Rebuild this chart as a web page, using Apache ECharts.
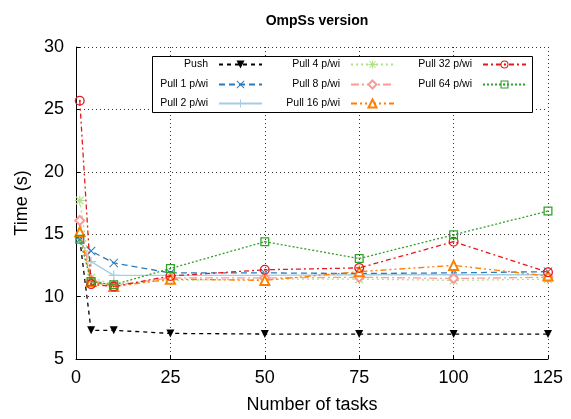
<!DOCTYPE html>
<html><head><meta charset="utf-8">
<script src="https://cdn.jsdelivr.net/npm/echarts@6/dist/echarts.min.js"></script>
<style>html,body{margin:0;padding:0;background:#fff}#c{width:571px;height:419px}</style>
</head><body><div id="c"></div>
<script>
const tasks = [1, 4, 10, 25, 50, 75, 100, 125];
const push   = [14.6, 7.3, 7.3, 7.05, 7.0, 7.0, 7.0, 7.0];
const pull1  = [14.6, 13.65, 12.7, 11.9, 11.9, 11.85, 11.9, 12.0];
const pull2  = [14.6, 12.8, 11.7, 11.7, 11.7, 11.75, 11.75, 11.75];
const pull4  = [17.7, 11.5, 11.0, 11.3, 11.4, 11.4, 11.3, 11.4];
const pull8  = [16.1, 11.3, 10.9, 11.5, 11.5, 11.55, 11.45, 11.55];
const pull16 = [15.2, 11.2, 10.8, 11.4, 11.3, 12.0, 12.5, 11.65];
const pull32 = [25.7, 11.0, 10.8, 11.65, 12.15, 12.3, 14.4, 11.95];
const pull64 = [14.6, 11.2, 10.95, 12.25, 14.4, 13.05, 14.95, 16.85];
const seriesNames = ['Push','Pull 1 p/wi','Pull 2 p/wi','Pull 4 p/wi','Pull 8 p/wi','Pull 16 p/wi','Pull 32 p/wi','Pull 64 p/wi'];
const xTicks = [0, 25, 50, 75, 100, 125];
const yTicks = [5, 10, 15, 20, 25, 30];

const FONT = 'Liberation Sans, Arial, sans-serif';
const X_PATH = 'path://M0.8,0 L5,4.2 L9.2,0 L10,0.8 L5.8,5 L10,9.2 L9.2,10 L5,5.8 L0.8,10 L0,9.2 L4.2,5 L0,0.8 Z';
const PLUS_PATH = 'path://M4.4,0 L5.6,0 L5.6,4.4 L10,4.4 L10,5.6 L5.6,5.6 L5.6,10 L4.4,10 L4.4,5.6 L0,5.6 L0,4.4 L4.4,4.4 Z';
const STAR_PATH = 'path://M4.4,0 L5.6,0 L5.6,4.4 L10,4.4 L10,5.6 L5.6,5.6 L5.6,10 L4.4,10 L4.4,5.6 L0,5.6 L0,4.4 L4.4,4.4 Z M1.5,0.7 L5,4.2 L8.5,0.7 L9.3,1.5 L5.8,5 L9.3,8.5 L8.5,9.3 L5,5.8 L1.5,9.3 L0.7,8.5 L4.2,5 L0.7,1.5 Z';
const RINGDOT_PATH = 'path://M5,0 A5,5 0 1,1 5,10 A5,5 0 1,1 5,0 Z M5,1.3 A3.7,3.7 0 1,0 5,8.7 A3.7,3.7 0 1,0 5,1.3 Z M5,4 A1,1 0 1,1 5,6 A1,1 0 1,1 5,4 Z';
const SQDOT_PATH = 'path://M0,0 L10,0 L10,10 L0,10 Z M1.4,1.4 L1.4,8.6 L8.6,8.6 L8.6,1.4 Z M4.2,4.2 L5.8,4.2 L5.8,5.8 L4.2,5.8 Z';

const styles = [
  {data: push,   color:'#000000', dash:[4,4],          symbol:'triangle', rot:180, size:8, bw:0},
  {data: pull1,  color:'#2b7bba', dash:[6,4],          symbol:X_PATH, size:9, bw:0},
  {data: pull2,  color:'#a6cee3', dash:'solid',        symbol:PLUS_PATH, size:10, bw:0},
  {data: pull4,  color:'#b2df8a', dash:[2,3],          symbol:STAR_PATH, size:10, bw:0},
  {data: pull8,  color:'#fb9a99', dash:[8,3,2,3],      symbol:'emptyDiamond', size:9, bw:1.2},
  {data: pull16, color:'#ff7f00', dash:[6,3,2,3,2,3],  symbol:'emptyTriangle', size:9, bw:1.2},
  {data: pull32, color:'#e31a1c', dash:[5,3,2,3],      symbol:RINGDOT_PATH, size:10, bw:0},
  {data: pull64, color:'#33a02c', dash:[2,2],          symbol:SQDOT_PATH, size:9, bw:0}
];

const series = styles.map((s, i) => ({
  name: seriesNames[i],
  type: 'line',
  data: tasks.map((t, j) => [t, s.data[j]]),
  symbol: s.symbol,
  symbolSize: s.size,
  symbolRotate: s.rot || 0,
  symbolKeepAspect: true,
  showAllSymbol: true,
  color: s.color,
  lineStyle: {color: s.color, width: 1.3, type: s.dash},
  itemStyle: {color: s.color, borderColor: s.color, borderWidth: s.bw},
  emphasis: {disabled: true},
  z: 2 + i*0.01
}));

const colRight = [263, 395, 527];
const rowCenter = [64, 84, 103];
const legendPos = [[0,0],[0,1],[0,2],[1,0],[1,1],[1,2],[2,0],[2,1]];
const legends = seriesNames.map((n, i) => ({
  data: [n],
  right: 571 - colRight[legendPos[i][0]],
  top: rowCenter[legendPos[i][1]] - 5,
  align: 'right',
  orient: 'horizontal',
  itemWidth: 43,
  itemHeight: 10,
  padding: 0,
  selectedMode: false,
  z: 10,
  itemStyle: {borderWidth: styles[i].bw},
  textStyle: {fontSize: 10.5, fontFamily: FONT, color: '#000', padding: [0, 6, 0, 0]}
}));

const chart = echarts.init(document.getElementById('c'), null, {renderer: 'canvas'});
chart.setOption({
  animation: false,
  backgroundColor: '#fff',
  title: {text: 'OmpSs version', left: 312, textAlign: 'center', top: 9,
    textStyle: {fontSize: 14, fontWeight: 'bold', fontFamily: FONT, color: '#000'}},
  grid: {left: 76, right: 23, top: 47, bottom: 57, containLabel: false},
  legend: legends,
  graphic: [{type: 'rect', shape: {x: 152.5, y: 56.5, width: 380, height: 56},
    style: {fill: '#fff', stroke: '#000', lineWidth: 1}, z: 5}],
  xAxis: {
    type: 'value', min: 0, max: 125, interval: 25,
    name: 'Number of tasks', nameLocation: 'middle', nameGap: 37,
    nameTextStyle: {fontSize: 18, fontFamily: FONT, color: '#000'},
    axisLine: {show: true, onZero: false, lineStyle: {color: '#000', width: 1}},
    axisTick: {show: true, inside: true, length: 4, lineStyle: {color: '#000'}},
    axisLabel: {fontSize: 18, fontFamily: FONT, color: '#000', margin: 10,
      formatter: v => xTicks.includes(v) ? String(v) : ''},
    splitLine: {show: true, lineStyle: {color: '#333', type: [1, 3], width: 1}}
  },
  yAxis: {
    type: 'value', min: 5, max: 30, interval: 5,
    name: 'Time (s)', nameLocation: 'middle', nameGap: 45, nameRotate: 90,
    nameTextStyle: {fontSize: 18, fontFamily: FONT, color: '#000'},
    axisLine: {show: true, onZero: false, lineStyle: {color: '#000', width: 1}},
    axisTick: {show: true, inside: true, length: 4, lineStyle: {color: '#000'}},
    axisLabel: {fontSize: 18, fontFamily: FONT, color: '#000', margin: 12,
      formatter: v => yTicks.includes(v) ? String(v) : ''},
    splitLine: {show: true, lineStyle: {color: '#333', type: [1, 3], width: 1}}
  },
  series: series
});
</script></body></html>
